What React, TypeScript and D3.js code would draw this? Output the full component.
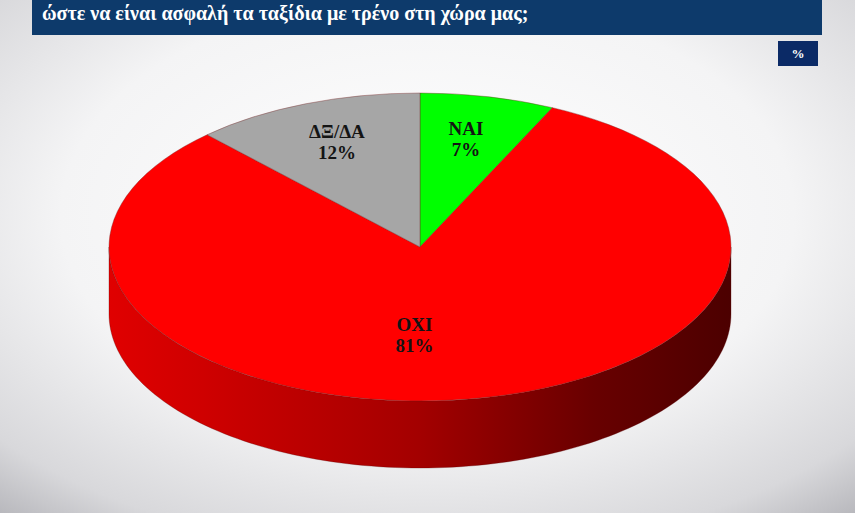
import React from "react";
import * as d3 from "d3";

const titleLine = "ώστε να είναι ασφαλή τα ταξίδια με τρένο στη χώρα μας;";
const unitLabel = "%";
const categories = ["NAI", "OXI", "ΔΞ/ΔΑ"];
const values = [7, 81, 12];
const colors = ["#00ff00", "#ff0000", "#a6a6a6"];

// label placement in units of the ellipse radii (layout, not data)
const labelOffsets = [
  { dx: 0.148, dy: -0.705 },
  { dx: -0.018, dy: 0.568 },
  { dx: -0.267, dy: -0.69 },
];

const W = 855;
const H = 513;
const cx = 420;
const cy = 247;
const rx = 311;
const ry = 154;
const depth = 67;

export default function App() {
  const pie = d3
    .pie<number>()
    .sort(null)
    .startAngle(0)
    .endAngle(2 * Math.PI)
    .value((d) => d);
  const arcs = pie(values);

  const arc = d3.arc<d3.PieArcDatum<number>>().innerRadius(0).outerRadius(rx);

  const px = (a: number) => cx + rx * Math.sin(a);
  const py = (a: number) => cy - ry * Math.cos(a);

  // side walls: visible where cos(a) < 0 => a in [PI/2, 3PI/2]
  const sides: { path: string; i: number }[] = [];
  arcs.forEach((a, i) => {
    const s = Math.max(a.startAngle, Math.PI / 2);
    const e = Math.min(a.endAngle, (3 * Math.PI) / 2);
    if (e <= s) return;
    const n = 120;
    const angles = d3.range(n + 1).map((k) => s + ((e - s) * k) / n);
    const top = angles.map((t) => [px(t), py(t)] as [number, number]);
    const bottom = angles
      .slice()
      .reverse()
      .map((t) => [px(t), py(t) + depth] as [number, number]);
    const line = d3.line();
    sides.push({ path: line([...top, ...bottom])! + "Z", i });
  });

  const font = "'Liberation Serif', 'Times New Roman', serif";

  return (
    <svg
      width={W}
      height={H}
      style={{ position: "absolute", left: 0, top: 0, display: "block" }}
    >
      <defs>
        <radialGradient id="bg" cx="50%" cy="42%" r="78%">
          <stop offset="0%" stopColor="#ffffff" />
          <stop offset="55%" stopColor="#f4f4f5" />
          <stop offset="85%" stopColor="#d8d8db" />
          <stop offset="100%" stopColor="#b4b4b9" />
        </radialGradient>
        <linearGradient id="side" x1={cx - rx} x2={cx + rx} y1={0} y2={0} gradientUnits="userSpaceOnUse">
          <stop offset="0%" stopColor="#e00000" />
          <stop offset="15%" stopColor="#cf0000" />
          <stop offset="50%" stopColor="#a30000" />
          <stop offset="78%" stopColor="#680000" />
          <stop offset="100%" stopColor="#4c0000" />
        </linearGradient>
      </defs>
      <rect x={0} y={0} width={W} height={H} fill="url(#bg)" />

      {/* title bar */}
      <rect x={32} y={-2} width={790} height={37} fill="#0d3a6b" />
      <text
        x={42}
        y={20}
        fill="#ffffff"
        fontFamily={font}
        fontWeight="bold"
        fontSize={20}
      >
        {titleLine}
      </text>

      {/* unit box */}
      <rect x={778} y={41} width={40} height={25} fill="#0b2a66" />
      <text
        x={798}
        y={58}
        fill="#ffffff"
        fontFamily={font}
        fontWeight="bold"
        fontSize={13}
        textAnchor="middle"
      >
        {unitLabel}
      </text>

      {/* side walls */}
      {sides.map((s) => (
        <path key={"s" + s.i} d={s.path} fill="url(#side)" stroke="#5a0000" strokeWidth={0.3} />
      ))}

      {/* top faces */}
      <g transform={`translate(${cx},${cy}) scale(1,${ry / rx})`}>
        {arcs.map((a, i) => (
          <path
            key={"t" + i}
            d={arc(a)!}
            fill={colors[i]}
            stroke="#7a2a2a"
            strokeOpacity={0.5}
            strokeWidth={0.8}
            vectorEffect="non-scaling-stroke"
          />
        ))}
      </g>

      {/* labels */}
      {arcs.map((a, i) => {
        const lx = cx + labelOffsets[i].dx * rx;
        const ly = cy + labelOffsets[i].dy * ry;
        return (
          <text
            key={"l" + i}
            x={lx}
            y={ly}
            textAnchor="middle"
            fontFamily={font}
            fontWeight="bold"
            fontSize={19}
            fill="#141414"
          >
            <tspan x={lx} dy={-3}>
              {categories[i]}
            </tspan>
            <tspan x={lx} dy={21}>
              {values[i] + "%"}
            </tspan>
          </text>
        );
      })}
    </svg>
  );
}
